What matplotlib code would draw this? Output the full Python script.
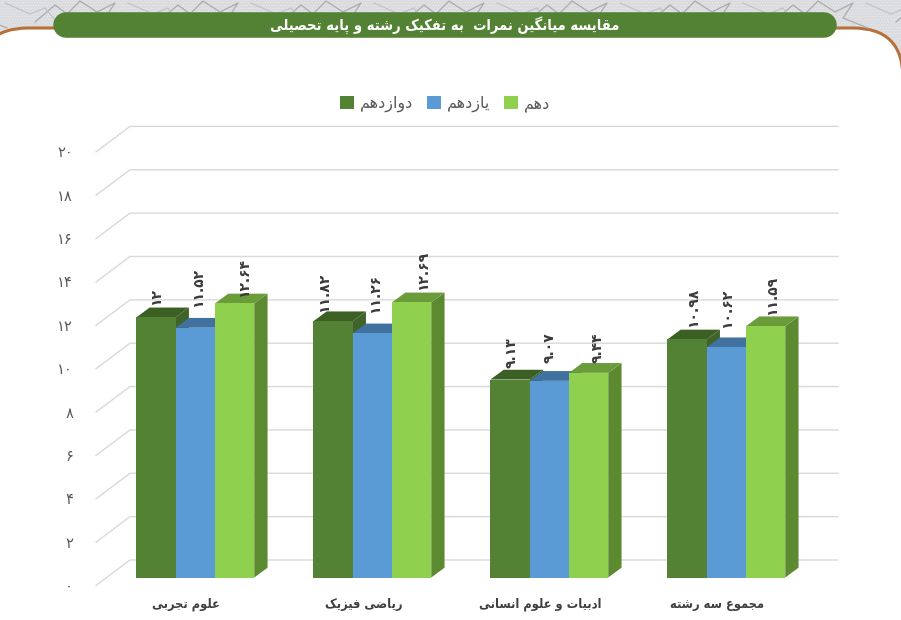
# -*- coding: utf-8 -*-
import matplotlib
matplotlib.use('Agg')
import matplotlib.pyplot as plt
from matplotlib.patches import FancyBboxPatch, Patch, Rectangle
from numpy import arange

plt.rcParams['font.family'] = ['DejaVu Sans']
plt.rcParams['hatch.linewidth'] = 0.5

title = 'مقایسه میانگین نمرات  به تفکیک رشته و پایه تحصیلی'
categories = ['علوم تجربی', 'ریاضی فیزیک', 'ادبیات و علوم انسانی', 'مجموع سه رشته']
series_names = ['دوازدهم', 'یازدهم', 'دهم']

grade12 = [12, 11.82, 9.13, 10.98]
grade11 = [11.52, 11.26, 9.07, 10.62]
grade10 = [12.64, 12.69, 9.44, 11.59]
y_ticks = [0, 2, 4, 6, 8, 10, 12, 14, 16, 18, 20]

# label nudges in pixels, one row per category (the source placed them by hand)
label_dx = [[0, 3, 9.5], [-9, 3, 11.4], [2, 0, 9.4], [6, 1, 6.4]]
label_dy = [[12.3, 20.7, 6.5], [9, 20, 12], [11.6, 18, 10], [12, 19, 11]]

# presentation forms: isolated, final, initial, medial
FORMS = {
    'ا': (0xFE8D, 0xFE8E), 'د': (0xFEA9, 0xFEAA), 'ر': (0xFEAD, 0xFEAE),
    'ز': (0xFEAF, 0xFEB0), 'و': (0xFEED, 0xFEEE),
    'ب': (0xFE8F, 0xFE90, 0xFE91, 0xFE92), 'پ': (0xFB56, 0xFB57, 0xFB58, 0xFB59),
    'ت': (0xFE95, 0xFE96, 0xFE97, 0xFE98), 'ج': (0xFE9D, 0xFE9E, 0xFE9F, 0xFEA0),
    'ح': (0xFEA1, 0xFEA2, 0xFEA3, 0xFEA4), 'س': (0xFEB1, 0xFEB2, 0xFEB3, 0xFEB4),
    'ش': (0xFEB5, 0xFEB6, 0xFEB7, 0xFEB8), 'ص': (0xFEB9, 0xFEBA, 0xFEBB, 0xFEBC),
    'ض': (0xFEBD, 0xFEBE, 0xFEBF, 0xFEC0), 'ع': (0xFEC9, 0xFECA, 0xFECB, 0xFECC),
    'ف': (0xFED1, 0xFED2, 0xFED3, 0xFED4), 'ق': (0xFED5, 0xFED6, 0xFED7, 0xFED8),
    'ک': (0xFB8E, 0xFB8F, 0xFB90, 0xFB91), 'گ': (0xFB92, 0xFB93, 0xFB94, 0xFB95),
    'ل': (0xFEDD, 0xFEDE, 0xFEDF, 0xFEE0), 'م': (0xFEE1, 0xFEE2, 0xFEE3, 0xFEE4),
    'ن': (0xFEE5, 0xFEE6, 0xFEE7, 0xFEE8), 'ه': (0xFEE9, 0xFEEA, 0xFEEB, 0xFEEC),
    'ی': (0xFBFC, 0xFBFD, 0xFBFE, 0xFBFF),
}


# matplotlib does no shaping, so join the letters here and flip for right-to-left
def shape(text):
    out = []
    for i, c in enumerate(text):
        if c not in FORMS:
            out.append(c)
            continue
        prev = text[i-1] if i > 0 else ' '
        nxt = text[i+1] if i < len(text)-1 else ' '
        joined_before = prev in FORMS and len(FORMS[prev]) == 4
        joined_after = nxt in FORMS and len(FORMS[c]) == 4
        forms = FORMS[c]
        if joined_before and joined_after:
            out.append(chr(forms[3]))
        elif joined_before:
            out.append(chr(forms[1]))
        elif joined_after:
            out.append(chr(forms[2]))
        else:
            out.append(chr(forms[0]))
    return ''.join(reversed(out))


def fa_digits(val):
    return ('%g' % val).translate(str.maketrans('0123456789', '۰۱۲۳۴۵۶۷۸۹'))


fig = plt.figure(figsize=(9.01, 6.2), dpi=100)
fig.patch.set_facecolor('white')

# page decoration, in pixels
deco = fig.add_axes([0, 0, 1, 1], zorder=0)
deco.set_xlim(0, 901)
deco.set_ylim(620, 0)
deco.axis('off')
deco.add_patch(Rectangle((0, 0), 901, 80, fc='#dadbde', ec='#e9e9eb', hatch='......', lw=0))
for k in range(-1, 9):
    x0 = k*123 + 35
    deco.plot([x0, x0+20, x0+32, x0+45, x0+62, x0+80, x0+70, x0+95],
              [22, 5, 14, 1, 12, 3, 18, 28], color='#a9abae', lw=0.9)
    deco.plot([x0-30, x0-5, x0+10, x0+20], [3, 14, 8, 20], color='#bfc1c4', lw=0.8)
deco.add_patch(FancyBboxPatch((-22, 28), 925, 700, boxstyle='round,pad=0,rounding_size=50',
                              fc='white', ec='#b8703a', lw=2.2))
# a fat round-capped line gives the title pill its true half circles
deco.plot([65.5, 823.5], [25.25, 25.25], color='#548235', lw=18.4, solid_capstyle='round')
deco.text(445, 25, shape(title), color='white', fontsize=10.5, fontweight='bold',
          fontstretch='condensed', ha='center', va='center')

# chart: one x unit is one category, y is in score units
px_x = 1/177.0
px_y = 1/21.68
ax = fig.add_axes([0, 0, 1, 1], zorder=1)
ax.patch.set_visible(False)
ax.set_xlim(-195.3*px_x, (901-195.3)*px_x)
ax.set_ylim((577.5-620)*px_y, 577.5*px_y)
ax.axis('off')

# back wall
wall_left = (96-195.3)*px_x
wall_back = (130-195.3)*px_x
wall_right = (838-195.3)*px_x
for t in y_ticks:
    ax.plot([wall_left, wall_back, wall_right],
            [t - 8*px_y, t + 17.5*px_y, t + 17.5*px_y], color='#d9d9d9', lw=1.0, zorder=1)
    ax.text(wall_left - 23*px_x, t - 9*px_y, fa_digits(t), color='#595959', fontsize=10.5,
            ha='right', va='center')

series = [grade12, grade11, grade10]
face_colors = ['#548235', '#5b9bd5', '#8fd14f']
top_colors = ['#3c6024', '#41729f', '#6b9c3a']
side_colors = ['#3f6329', '#44749f', '#5c8a30']
bar_w = 39.3*px_x
dep_x = 13.3*px_x
dep_y = 9.8*px_y
x = arange(len(categories))

for s, vals in enumerate(series):
    pos = x + (s-1)*bar_w
    z = 3 + s
    for p, v in zip(pos, vals):
        r = p + bar_w/2
        l = p - bar_w/2
        ax.fill([r, r+dep_x, r+dep_x, r], [0, dep_y, v+dep_y, v], color=side_colors[s], lw=0, zorder=z)
        ax.fill([l, r, r+dep_x, l+dep_x], [v, v, v+dep_y, v+dep_y], color=top_colors[s], lw=0, zorder=z)
    ax.bar(pos, vals, bar_w, color=face_colors[s], lw=0, zorder=z)

for i in range(len(categories)):
    for s, vals in enumerate(series):
        ax.annotate(fa_digits(vals[i]), (x[i] + (s-1)*bar_w, vals[i]),
                    xytext=(label_dx[i][s]*0.72, label_dy[i][s]*0.72), textcoords='offset points',
                    rotation=90, ha='center', va='bottom', color='#3a3a3a', fontsize=10,
                    fontweight='bold', zorder=10)
    ax.text(x[i] - 9*px_x, -27*px_y, shape(categories[i]), color='#404040', fontsize=9.2,
            fontweight='bold', fontstretch='condensed', ha='center', va='center')

# legend reads right to left like the source
handles = [Patch(color=c, lw=0) for c in face_colors]
leg_labels = [shape(n) for n in series_names]
leg = ax.legend(handles, leg_labels, ncol=3, frameon=False, loc='center',
                bbox_to_anchor=(445/901, 1-104/620), bbox_transform=fig.transFigure,
                fontsize=11.5, labelcolor='#595959', handlelength=0.9, handleheight=0.9,
                handletextpad=0.35, columnspacing=0.85)

fig.savefig('out.png', dpi=100)
